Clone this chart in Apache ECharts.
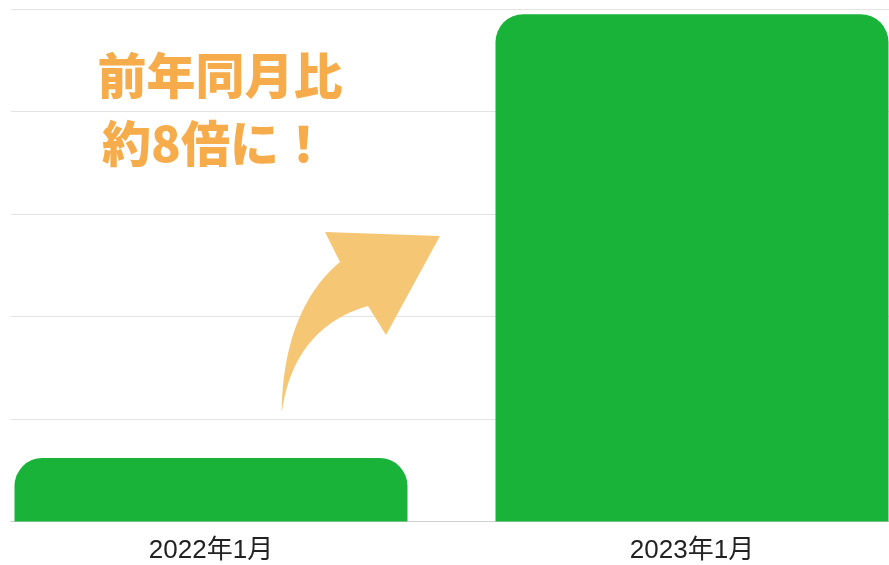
<!DOCTYPE html>
<html>
<head>
<meta charset="utf-8">
<title>前年同月比</title>
<script src="https://cdn.jsdelivr.net/npm/echarts@6/dist/echarts.min.js"></script>
<style>
  html, body { margin: 0; padding: 0; background: #fff; }
  #myChart { width: 889px; height: 565px; }
</style>
</head>
<body>
<div id="myChart"></div>
<script>
// データ
var months = ['2022年1月', '2023年1月'];
var monthPos = [0, 1];
var counts = [62, 495];
var yTicks = [0, 100, 200, 300, 400, 500];
var noteLines = ['前年同月比', '約8倍に！'];

// 矢印の形（装飾）: 3次ベジェ曲線を折れ線にする
function bezier(p0, p1, p2, p3, n) {
  var pts = [];
  for (var i = 0; i <= n; i++) {
    var t = i / n, u = 1 - t;
    pts.push([
      u * u * u * p0[0] + 3 * u * u * t * p1[0] + 3 * u * t * t * p2[0] + t * t * t * p3[0],
      u * u * u * p0[1] + 3 * u * u * t * p1[1] + 3 * u * t * t * p2[1] + t * t * t * p3[1]
    ]);
  }
  return pts;
}
var arrowPts = []
  .concat(bezier([281.7, 413], [282, 350], [300, 295], [340, 262], 20))
  .concat([[325, 232], [440, 236], [386, 335]])
  .concat(bezier([368, 306], [325, 318], [290, 350], [281.7, 413], 20));

var barData = monthPos.map(function (x, i) { return [x, counts[i]]; });

var myChart = echarts.init(document.getElementById('myChart'));

myChart.setOption({
  animation: false,
  grid: {
    left: 11,
    right: 0,
    top: 9,
    bottom: 43.5
  },
  xAxis: {
    type: 'value',
    min: -0.4158,
    max: 1.4096,
    splitLine: { show: false },
    axisTick: { show: false },
    axisLine: { show: true, onZero: false, lineStyle: { color: '#cfcfcf', width: 1 } },
    axisLabel: {
      customValues: monthPos,
      formatter: function (v) { return months[Math.round(v)]; },
      color: '#222',
      fontSize: 26,
      fontFamily: 'Liberation Sans, Noto Sans CJK JP, sans-serif',
      margin: 16
    }
  },
  yAxis: {
    type: 'value',
    min: yTicks[0],
    max: yTicks[yTicks.length - 1],
    interval: yTicks[1] - yTicks[0],
    axisLabel: { show: false },
    axisLine: { show: false },
    axisTick: { show: false },
    splitLine: { lineStyle: { color: '#e3e3e3', width: 1 } }
  },
  series: [
    {
      type: 'bar',
      data: barData,
      barWidth: 393,
      itemStyle: {
        color: '#19b33a',
        borderRadius: [28, 28, 0, 0]
      }
    }
  ],
  graphic: [
    // 矢印
    {
      type: 'polygon',
      z: 5,
      shape: { points: arrowPts },
      style: { fill: '#f5c775' }
    },
    {
      type: 'text',
      z: 5,
      x: 220,
      y: 75,
      style: {
        text: noteLines[0],
        fill: '#f6ac4b',
        font: '900 49px "Noto Sans CJK JP", sans-serif',
        textAlign: 'center',
        textVerticalAlign: 'middle'
      }
    },
    {
      type: 'text',
      z: 5,
      x: 215,
      y: 143,
      style: {
        text: noteLines[1],
        fill: '#f6ac4b',
        font: '900 49px "Noto Sans CJK JP", sans-serif',
        textAlign: 'center',
        textVerticalAlign: 'middle'
      }
    }
  ]
});
</script>
</body>
</html>
